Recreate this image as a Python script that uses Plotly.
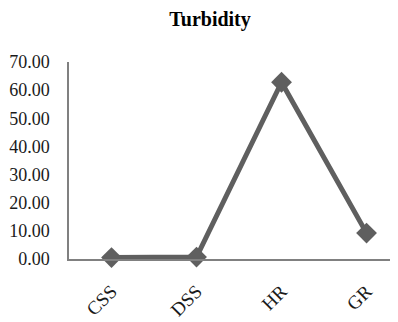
import plotly.graph_objects as go

categories = ["CSS", "DSS", "HR", "GR"]
turbidity = [0.5, 0.7, 62.8, 9.2]
y_ticks = [0, 10, 20, 30, 40, 50, 60, 70]
y_tick_labels = ["0.00", "10.00", "20.00", "30.00", "40.00", "50.00", "60.00", "70.00"]

fig = go.Figure()
fig.add_trace(go.Scatter(
    x=list(range(len(categories))), y=turbidity,
    mode="lines+markers",
    line=dict(color="#5f5f5f", width=5),
    marker=dict(symbol="diamond", size=16, color="#5f5f5f"),
    showlegend=False, cliponaxis=False,
))

# page body has an 8px margin, so the figure is sized/offset to compensate
fig.update_layout(
    width=390, height=314,
    margin=dict(l=61, r=0, t=54, b=63),
    paper_bgcolor="white", plot_bgcolor="white",
    font=dict(family="Liberation Serif", color="#1a1a1a", size=18),
    title=dict(text="<b>Turbidity</b>", x=0.518, xanchor="center", y=0.965, yanchor="middle",
               font=dict(family="Liberation Serif", size=20, color="black")),
)
fig.update_xaxes(
    range=[-0.5, 3.37], tickvals=list(range(len(categories))), ticktext=categories,
    tickangle=-45, showgrid=False, zeroline=False, automargin=False,
    showline=True, linecolor="#808080", linewidth=1.5,
    ticks="outside", ticklen=12, tickcolor="rgba(0,0,0,0)",
    tickfont=dict(size=19),
)
fig.update_yaxes(
    range=[0, 70], tickvals=y_ticks, ticktext=y_tick_labels,
    showgrid=False, zeroline=False, automargin=False,
    showline=True, linecolor="#808080", linewidth=1.5,
    ticks="outside", ticklen=14, tickcolor="rgba(0,0,0,0)",
    tickfont=dict(size=18),
)

fig.write_html("out.html")
